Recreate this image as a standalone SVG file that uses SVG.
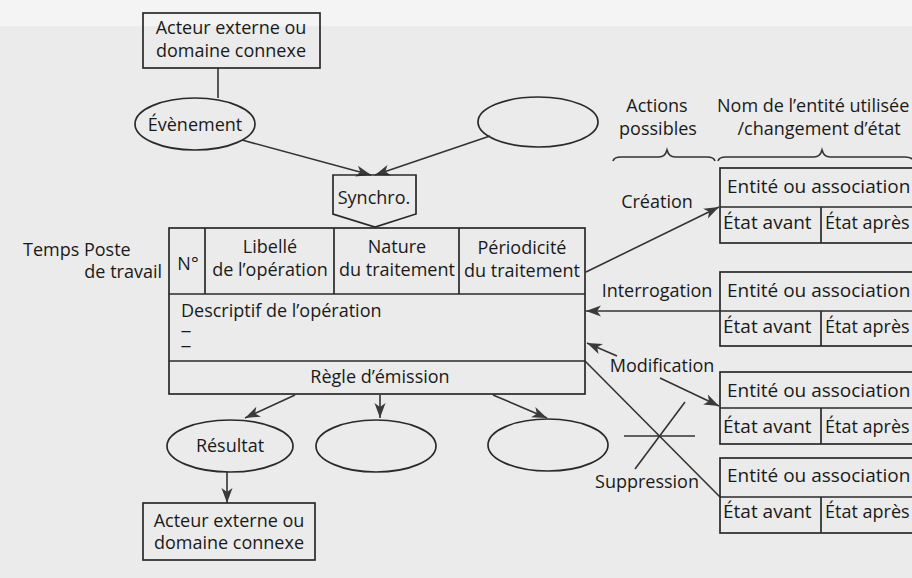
<svg xmlns="http://www.w3.org/2000/svg" width="912" height="578" viewBox="0 0 912 578">
<defs>
<marker id="arr" markerUnits="userSpaceOnUse" markerWidth="16" markerHeight="12" viewBox="0 0 16 12" refX="15" refY="6" orient="auto">
<path d="M0,0.5 L15,6 L0,11.5 L4,6 Z" fill="#3a3a3a"/>
</marker>
<style>
text{font-family:"Open Sans","Noto Sans","Liberation Sans",sans-serif;font-size:18px;fill:#1a1a1a}
.m{text-anchor:middle}
.e{text-anchor:end}
.en{font-size:19px}
.ap{font-size:18px}
.d{font-size:10px;font-weight:bold}
.s{fill:none;stroke:#2a2a2a;stroke-width:1.7}
.c{fill:none;stroke:#333;stroke-width:1.6}
.a{marker-end:url(#arr)}
</style>
</defs>
<rect x="0" y="0" width="912" height="578" fill="#ebebeb"/>
<rect x="0" y="0" width="912" height="26" fill="#f4f4f4"/>

<g id="connectors">
<line class="c" x1="218" y1="68" x2="218" y2="98"/>
<line class="c a" x1="242" y1="140" x2="371" y2="175"/>
<line class="c a" x1="490" y1="136" x2="375" y2="175"/>
<line class="c a" x1="586" y1="272" x2="719" y2="207"/>
<line class="c a" x1="720" y1="311" x2="586" y2="311"/>
<line class="c a" x1="617" y1="356" x2="587" y2="343"/>
<line class="c a" x1="660" y1="378" x2="719" y2="406"/>
<line class="c" x1="585" y1="361" x2="720" y2="497"/>
<line class="c" x1="624" y1="436" x2="695" y2="436"/>
<line class="c" x1="685" y1="402" x2="635" y2="469"/>
<line class="c a" x1="295" y1="395" x2="245" y2="418"/>
<line class="c a" x1="380" y1="395" x2="380" y2="418"/>
<line class="c a" x1="493" y1="395" x2="547" y2="418"/>
<line class="c a" x1="227" y1="472" x2="227" y2="503"/>
</g>

<g id="acteur-haut">
<rect class="s" x="143" y="13" width="177" height="55"/>
<text class="m"><tspan x="231" y="34">Acteur externe ou</tspan><tspan x="231" y="57">domaine connexe</tspan></text>
</g>

<g id="evenement">
<ellipse class="s" cx="195" cy="124" rx="60" ry="26"/>
<text class="m" x="195" y="131">Évènement</text>
</g>

<g id="evenement-2">
<ellipse class="s" cx="538" cy="122" rx="60" ry="25"/>
</g>

<g id="synchro">
<path class="s" d="M333,175 L416,175 L416,214 L375,227 L333,214 Z"/>
<text class="m" x="374" y="204">Synchro.</text>
</g>

<g id="axes">
<text><tspan x="23" y="256">Temps Poste</tspan><tspan class="e" x="162" y="278">de travail</tspan></text>
</g>

<g id="operation">
<rect class="s" x="169" y="228" width="416" height="166"/>
<line class="s" x1="169" y1="294" x2="585" y2="294"/>
<line class="s" x1="169" y1="361" x2="585" y2="361"/>
<line class="s" x1="205" y1="228" x2="205" y2="294"/>
<line class="s" x1="334" y1="228" x2="334" y2="294"/>
<line class="s" x1="459" y1="228" x2="459" y2="294"/>
<text class="m" x="188" y="270">N°</text>
<text class="m"><tspan x="270" y="253">Libellé</tspan><tspan x="270" y="276">de l’opération</tspan></text>
<text class="m"><tspan x="397" y="253">Nature</tspan><tspan x="397" y="276">du traitement</tspan></text>
<text class="m"><tspan x="522" y="254">Périodicité</tspan><tspan x="522" y="277">du traitement</tspan></text>
<text><tspan x="181" y="317">Descriptif de l’opération</tspan><tspan class="d" x="181" y="334">—</tspan><tspan class="d" x="181" y="349">—</tspan></text>
<text class="m" x="380" y="383">Règle d’émission</text>
</g>

<g id="resultat">
<ellipse class="s" cx="230" cy="446" rx="63" ry="26"/>
<text class="m" x="230" y="452">Résultat</text>
</g>

<g id="resultat-2">
<ellipse class="s" cx="376" cy="446" rx="60" ry="26"/>
</g>

<g id="resultat-3">
<ellipse class="s" cx="548" cy="445" rx="60" ry="26"/>
</g>

<g id="acteur-bas">
<rect class="s" x="143" y="503" width="172" height="57"/>
<text class="m"><tspan x="229" y="527">Acteur externe ou</tspan><tspan x="229" y="549">domaine connexe</tspan></text>
</g>

<g id="entetes">
<text class="m"><tspan x="657" y="112">Actions</tspan><tspan x="658" y="135">possibles</tspan></text>
<text><tspan x="717" y="112">Nom de l’entité utilisée</tspan><tspan class="m" x="819" y="135">/changement d’état</tspan></text>
<path class="c" d="M613,161 Q614,157 621,157 L659,157 Q665,157 667,150 Q669,157 675,157 L707,157 Q714,157 715,161"/>
<path class="c" d="M718,161 Q719,157 726,157 L814,157 Q820,157 822,150 Q824,157 830,157 L905,157 Q912,157 914,161"/>
</g>

<g id="labels-actions">
<text class="m" x="657" y="208">Création</text>
<text class="m" x="657" y="297">Interrogation</text>
<text class="m" x="662" y="372">Modification</text>
<text class="m" x="647" y="488">Suppression</text>
</g>

<g id="entite-1">
<rect class="s" x="720" y="168" width="220" height="75"/>
<line class="s" x1="720" y1="207" x2="912" y2="207"/>
<line class="s" x1="821" y1="207" x2="821" y2="243"/>
<text class="en" x="727" y="193">Entité ou association</text>
<text class="en" x="723" y="229">État avant</text>
<text class="ap" x="825" y="229">État après</text>
</g>

<g id="entite-2">
<rect class="s" x="720" y="272" width="220" height="74"/>
<line class="s" x1="720" y1="311" x2="912" y2="311"/>
<line class="s" x1="821" y1="311" x2="821" y2="346"/>
<text class="en" x="727" y="297">Entité ou association</text>
<text class="en" x="723" y="333">État avant</text>
<text class="ap" x="825" y="333">État après</text>
</g>

<g id="entite-3">
<rect class="s" x="720" y="372" width="220" height="72"/>
<line class="s" x1="720" y1="408" x2="912" y2="408"/>
<line class="s" x1="821" y1="408" x2="821" y2="444"/>
<text class="en" x="727" y="397">Entité ou association</text>
<text class="en" x="723" y="433">État avant</text>
<text class="ap" x="825" y="433">État après</text>
</g>

<g id="entite-4">
<rect class="s" x="720" y="458" width="220" height="75"/>
<line class="s" x1="720" y1="497" x2="912" y2="497"/>
<line class="s" x1="821" y1="497" x2="821" y2="533"/>
<text class="en" x="727" y="482">Entité ou association</text>
<text class="en" x="723" y="518">État avant</text>
<text class="ap" x="825" y="518">État après</text>
</g>
</svg>
